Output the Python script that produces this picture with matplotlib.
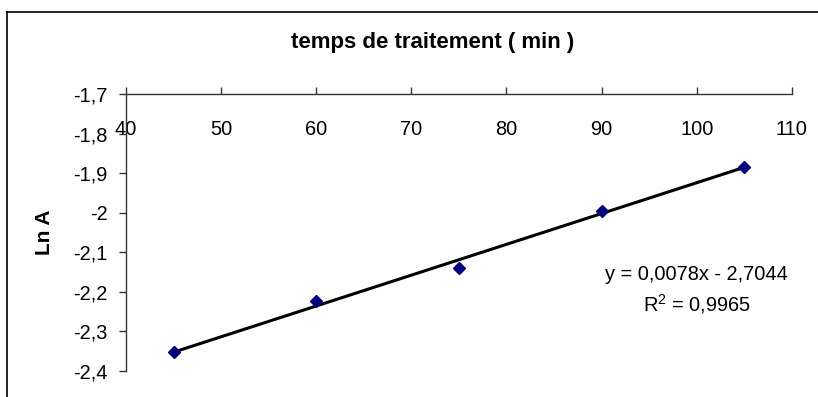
import matplotlib
matplotlib.use('Agg')
import matplotlib.pyplot as plt
from matplotlib.ticker import FuncFormatter
from matplotlib.lines import Line2D
import numpy as np

plt.rcParams['font.family'] = ['Liberation Sans', 'DejaVu Sans']

# data
temps = [45, 60, 75, 90, 105]
ln_a = [-2.352, -2.223, -2.140, -1.996, -1.884]
# trendline as printed on the chart
slope = 0.0078
intercept = -2.7044
r2 = 0.9965

x_ticks = [40, 50, 60, 70, 80, 90, 100, 110]
y_ticks = [-1.7, -1.8, -1.9, -2.0, -2.1, -2.2, -2.3, -2.4]


def comma(v, pos=None):
    return f"{round(v, 1):g}".replace('.', ',')


fig = plt.figure(figsize=(8.18, 3.97), dpi=100)
ax = fig.add_axes([0.154, 0.0665, 0.814, 0.6965])

# trendline
xt = np.array([temps[0], temps[-1]])
ax.plot(xt, slope * xt + intercept, color='black', lw=2.2, zorder=2)
ax.plot(temps, ln_a, linestyle='none', marker='D', ms=6.5,
        color='#000080', mec='#000080', zorder=3)

ax.set_xlim(40, 110)
ax.set_ylim(-2.4, -1.7)
ax.set_xticks(x_ticks)
ax.set_yticks(y_ticks)
ax.xaxis.set_major_formatter(FuncFormatter(comma))
ax.yaxis.set_major_formatter(FuncFormatter(comma))

for s in ['right', 'bottom']:
    ax.spines[s].set_visible(False)
for s in ['left', 'top']:
    ax.spines[s].set_color('#333333')
    ax.spines[s].set_linewidth(1.0)

ax.tick_params(axis='x', top=True, bottom=False, labeltop=True, labelbottom=False,
               direction='out', length=5, width=1, color='#333333',
               labelsize=14.4, pad=-37)
ax.tick_params(axis='y', direction='out', length=5, width=1, color='#333333',
               labelsize=14.4, pad=8)

ax.set_ylabel('Ln A', fontsize=15, fontweight='bold', labelpad=14)

fig.text(0.529, 0.892, 'temps de traitement ( min )', ha='center', va='center',
         fontsize=16, fontweight='bold')

eq = f"y = {slope:.4f}x - {abs(intercept):.4f}".replace('.', ',')
r2_txt = "$\\mathregular{R^2}$ = " + f"{r2:.4f}".replace('.', ',')
fig.text(0.852, 0.268, eq + "\n" + r2_txt, ha='center', va='center',
         fontsize=14.4, linespacing=1.45)

# chart frame (cropped at right and bottom)
fig.add_artist(Line2D([0.0086, 0.0086], [0.0, 0.97], transform=fig.transFigure,
                      color='black', lw=1.2))
fig.add_artist(Line2D([0.0086, 1.0], [0.97, 0.97], transform=fig.transFigure,
                      color='black', lw=1.2))

fig.savefig('out.png', dpi=100)
